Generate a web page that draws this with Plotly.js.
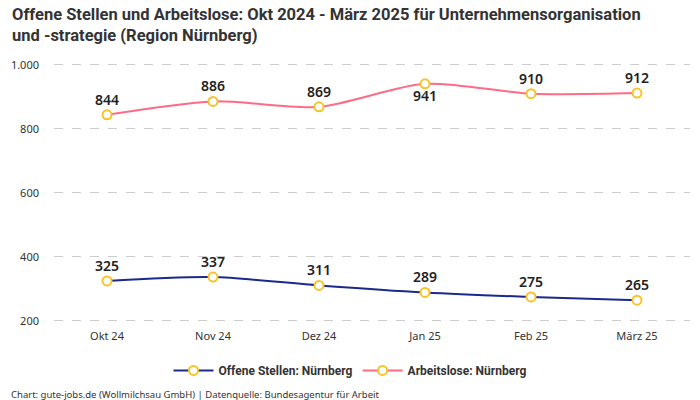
<!DOCTYPE html>
<html><head><meta charset="utf-8">
<script src="https://cdn.plot.ly/plotly-3.0.1.min.js"></script>
<style>html,body{margin:0;padding:0;background:#fff}#c{width:700px;height:400px}</style>
</head><body><div id="c"></div>
<script>
const months = ["Okt 24","Nov 24","Dez 24","Jan 25","Feb 25","März 25"];
const offeneStellen = [325,337,311,289,275,265];
const arbeitslose = [844,886,869,941,910,912];
const arbeitsloseTextPos = ["top center","top center","top center","bottom center","top center","top center"];
const yTicks = [200,400,600,800,1000];
const titleText = "Offene Stellen und Arbeitslose: Okt 2024 - März 2025 für Unternehmensorganisation<br>und -strategie (Region Nürnberg)";
const footerText = "Chart: gute-jobs.de (Wollmilchsau GmbH) | Datenquelle: Bundesagentur für Arbeit";

const markerStyle = {size:9, color:"#ffffff", line:{color:"#f7c325", width:2}};
const labelFont = {family:"Noto Sans, sans-serif", size:14, color:"#222", weight:600};

const traces = [
 {x:months, y:offeneStellen, name:"Offene Stellen: Nürnberg", type:"scatter", mode:"lines+markers+text",
  line:{color:"#1b2a8a", width:2, shape:"spline", smoothing:0.8}, marker:markerStyle,
  text:offeneStellen.map(String), textposition:"top center", textfont:labelFont, cliponaxis:false, hoverinfo:"skip"},
 {x:months, y:arbeitslose, name:"Arbeitslose: Nürnberg", type:"scatter", mode:"lines+markers+text",
  line:{color:"#ff6b84", width:2, shape:"spline", smoothing:0.8}, marker:markerStyle,
  text:arbeitslose.map(String), textposition:arbeitsloseTextPos, textfont:labelFont, cliponaxis:false, hoverinfo:"skip"}
];

const layout = {
 width:700, height:400,
 margin:{l:54, r:10, t:63, b:72, autoexpand:false},
 paper_bgcolor:"#fff", plot_bgcolor:"#fff",
 separators:",.",
 xaxis:{type:"category", range:[-0.5,5.5], showgrid:false, zeroline:false, showline:false, ticks:"",
   tickfont:{family:"Noto Sans, sans-serif", size:11, color:"#333"}},
 yaxis:{range:[178,1006], tickvals:yTicks, separatethousands:true, tickformat:",d",
   showgrid:true, gridcolor:"#cccccc", griddash:"dash", gridwidth:1, zeroline:false, showline:false,
   ticks:"", ticklabelstandoff:14,
   tickfont:{family:"Noto Sans, sans-serif", size:11, color:"#333"}},
 showlegend:true,
 legend:{orientation:"h", xref:"container", yref:"container", x:0.5, xanchor:"center", y:0.074, yanchor:"middle",
   font:{family:"Roboto, sans-serif", size:12, color:"#333", weight:"bold"},
   itemwidth:40},
 annotations:[
  {text:titleText, xref:"paper", yref:"paper", x:-0.069, xanchor:"left", y:1.225, yanchor:"top", align:"left",
   showarrow:false, font:{family:"Roboto, sans-serif", size:16.5, color:"#333", weight:"bold"}},
  {text:footerText, xref:"paper", yref:"paper", x:-0.07, xanchor:"left", y:-0.219, yanchor:"top", showarrow:false,
   font:{family:"Noto Sans, sans-serif", size:9.5, color:"#333"}}]
};
Plotly.newPlot("c", traces, layout, {displayModeBar:false, staticPlot:true});
</script></body></html>
